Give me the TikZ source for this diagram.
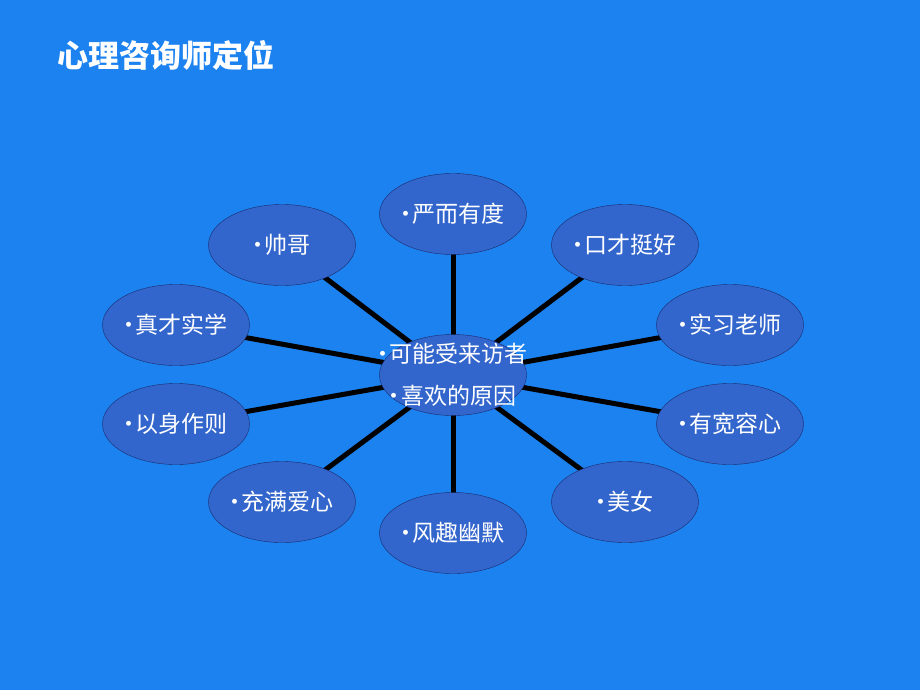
\documentclass[tikz,border=0pt]{standalone}
\usepackage{fontspec}
\newfontfamily\cjk{Noto Sans CJK SC}
\usetikzlibrary{shapes.geometric,backgrounds}
\definecolor{bgblue}{HTML}{1B82F0}
\definecolor{ovalblue}{HTML}{3366CC}
\definecolor{ovalline}{HTML}{1A2A6C}
\newcommand\bul{\kern-.3em·\kern-.2em}
\begin{document}
\begin{tikzpicture}[x=1pt,y=-1pt,
		oval/.style={ellipse,draw=ovalline,fill=ovalblue,minimum width=147pt,minimum height=81pt,inner sep=0pt,text=white,font=\cjk\fontsize{23}{26}\selectfont},
		spoke/.style={line width=5pt,black}]
		\useasboundingbox (0,0) rectangle (920,690);
		\node[anchor=west,text=white,font=\cjk\bfseries\fontsize{31}{36}\selectfont] (title) at (54,55) {心理咨询师定位};
		% centre
		\node[oval] (hub) at (453,375) {};
		\node[text=white,align=center,font=\cjk\fontsize{23}{42}\selectfont] (hubtext) at (hub.center) {\bul 可能受来访者\\\bul 喜欢的原因};
		% outer ring
		\node[oval] (yan) at (453,214) {\bul 严而有度};
		\node[oval] (shuai) at (282,245) {\bul 帅哥};
		\node[oval] (koucai) at (625,245) {\bul 口才挺好};
		\node[oval] (zhencai) at (176,325) {\bul 真才实学};
		\node[oval] (shixi) at (730,325) {\bul 实习老师};
		\node[oval] (yishen) at (176,424) {\bul 以身作则};
		\node[oval] (kuanrong) at (730,424) {\bul 有宽容心};
		\node[oval] (chongman) at (282,502) {\bul 充满爱心};
		\node[oval] (meinv) at (625,502) {\bul 美女};
		\node[oval] (fengqu) at (453,533) {\bul 风趣幽默};
		\begin{scope}[on background layer]
			\fill[bgblue] (0,0) rectangle (920,690);
			\foreach \n in {yan,shuai,koucai,zhencai,shixi,yishen,kuanrong,chongman,meinv,fengqu}
				\draw[spoke] (hub.center) -- (\n.center);
		\end{scope}
	\end{tikzpicture}
\end{document}
